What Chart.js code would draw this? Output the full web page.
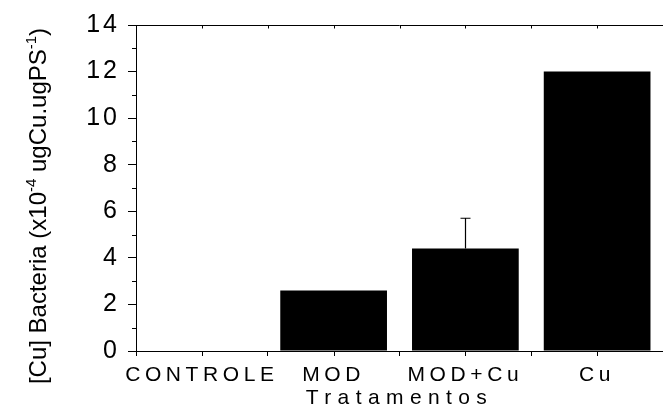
<!DOCTYPE html>
<html>
<head>
<meta charset="utf-8">
<script src="https://cdn.jsdelivr.net/npm/chart.js@4.4.1/dist/chart.umd.min.js"></script>
<style>
  html, body { margin: 0; padding: 0; background: #fff; }
  #wrap { width: 663px; height: 412px; }
</style>
</head>
<body>
<div id="wrap"><canvas id="chartCu" width="663" height="412"></canvas></div>
<script>
// Datos del gráfico
const categorias = ['CONTROLE', 'MOD', 'MOD+Cu', 'Cu'];
const valoresCu = [0, 2.6, 4.4, 12.0];
const erroresCu = [0, 0, 1.3, 0]; // solo barra superior
const yMin = 0, yMax = 14, yPaso = 2;

const fuente = "'Liberation Sans', Arial, sans-serif";

// espaciado de letras por escala (como en la figura original)
const espaciado = {
    id: 'espaciado',
    beforeDraw(chart) {
        const ctx = chart.ctx;
        const envolver = (scale, metodo, ls) => {
            if (scale['_ls_' + metodo]) return;
            const orig = scale[metodo];
            scale[metodo] = function (...args) {
                ctx.save();
                ctx.letterSpacing = ls;
                orig.apply(this, args);
                ctx.restore();
            };
            scale['_ls_' + metodo] = true;
        };
        envolver(chart.scales.x, 'drawLabels', '4.6px');
        envolver(chart.scales.x, 'drawTitle', '6.4px');
        envolver(chart.scales.y, 'drawLabels', '3px');
    }
};

// ticks menores, eje superior y barras de error
const extras = {
    id: 'extras',
    afterDraw(chart) {
        const ctx = chart.ctx;
        const area = chart.chartArea;
        const x = chart.scales.x, y = chart.scales.y;
        ctx.save();
        ctx.strokeStyle = '#000';
        ctx.lineWidth = 1;

        // ticks menores eje Y
        ctx.beginPath();
        for (let v = yMin + 1; v < yMax; v += yPaso) {
            const py = Math.round(y.getPixelForValue(v)) + 0.5;
            ctx.moveTo(area.left - 4, py);
            ctx.lineTo(area.left, py);
        }
        // ticks centrales eje X
        categorias.forEach((c, i) => {
            const px = Math.round(x.getPixelForValue(i)) + 0.5;
            ctx.moveTo(px, area.bottom);
            ctx.lineTo(px, area.bottom + 5);
        });
        ctx.stroke();

        // eje superior
        const top = Math.round(area.top) + 0.5;
        ctx.beginPath();
        ctx.moveTo(area.left, top);
        ctx.lineTo(chart.width, top);
        categorias.forEach((c, i) => {
            const pc = Math.round(x.getPixelForValue(i)) + 0.5;
            const pb = Math.round(x.getPixelForValue(i) - (x.getPixelForValue(1) - x.getPixelForValue(0)) / 2) + 0.5;
            ctx.moveTo(pc, top); ctx.lineTo(pc, top + 3);
            ctx.moveTo(pb, top); ctx.lineTo(pb, top + 3);
        });
        ctx.stroke();

        // barras de error (solo superior)
        const meta = chart.getDatasetMeta(0);
        ctx.lineWidth = 1.2;
        ctx.beginPath();
        meta.data.forEach((bar, i) => {
            if (!erroresCu[i]) return;
            const bx = Math.round(bar.x) + 0.5;
            const yTop = y.getPixelForValue(valoresCu[i] + erroresCu[i]);
            ctx.moveTo(bx, y.getPixelForValue(valoresCu[i]));
            ctx.lineTo(bx, yTop);
            ctx.moveTo(bx - 5, yTop);
            ctx.lineTo(bx + 5, yTop);
        });
        ctx.stroke();

        // título eje Y con superíndices
        const partes = [
            { t: '[Cu] Bacteria (x10', s: 24, up: 0 },
            { t: '-4', s: 15, up: 10 },
            { t: ' ugCu.ugPS', s: 24, up: 0 },
            { t: '-1', s: 15, up: 10 },
            { t: ')', s: 24, up: 0 }
        ];
        let ancho = 0;
        partes.forEach(p => { ctx.font = p.s + 'px ' + fuente; ancho += ctx.measureText(p.t).width; });
        ctx.translate(46, 206);
        ctx.rotate(-Math.PI / 2);
        ctx.fillStyle = '#000';
        ctx.textBaseline = 'alphabetic';
        ctx.textAlign = 'left';
        let cx = -ancho / 2;
        partes.forEach(p => {
            ctx.font = p.s + 'px ' + fuente;
            ctx.fillText(p.t, cx, -p.up);
            cx += ctx.measureText(p.t).width;
        });
        ctx.restore();
    }
};

const ctxCu = document.getElementById('chartCu').getContext('2d');
new Chart(ctxCu, {
    type: 'bar',
    data: {
        labels: categorias,
        datasets: [{
            label: '[Cu] Bacteria',
            data: valoresCu,
            backgroundColor: '#000',
            borderWidth: 0,
            categoryPercentage: 1.0,
            barPercentage: 0.81
        }]
    },
    options: {
        responsive: false,
        animation: false,
        layout: { padding: { left: 0, top: 25, right: -3, bottom: 0 } },
        plugins: {
            legend: { display: false },
            tooltip: { enabled: false }
        },
        scales: {
            x: {
                offset: true,
                afterFit: (scale) => { scale.height = 61; },
                grid: {
                    offset: true,
                    drawOnChartArea: false,
                    tickLength: 5,
                    tickColor: '#000',
                    tickWidth: 1
                },
                border: { color: '#000', width: 1 },
                ticks: {
                    color: '#000',
                    font: { family: fuente, size: 21 },
                    padding: 7,
                    maxRotation: 0,
                    autoSkip: false
                },
                title: {
                    display: true,
                    text: 'Tratamentos',
                    color: '#000',
                    font: { family: fuente, size: 21 },
                    padding: { top: 0, bottom: 1 }
                }
            },
            y: {
                min: yMin,
                max: yMax,
                afterFit: (scale) => { scale.width = 136; },
                grid: {
                    drawOnChartArea: false,
                    tickLength: 8,
                    tickColor: '#000',
                    tickWidth: 1
                },
                border: { color: '#000', width: 1 },
                ticks: {
                    stepSize: yPaso,
                    color: '#000',
                    font: { family: fuente, size: 25 },
                    padding: 8
                }
            }
        }
    },
    plugins: [espaciado, extras]
});
</script>
</body>
</html>
